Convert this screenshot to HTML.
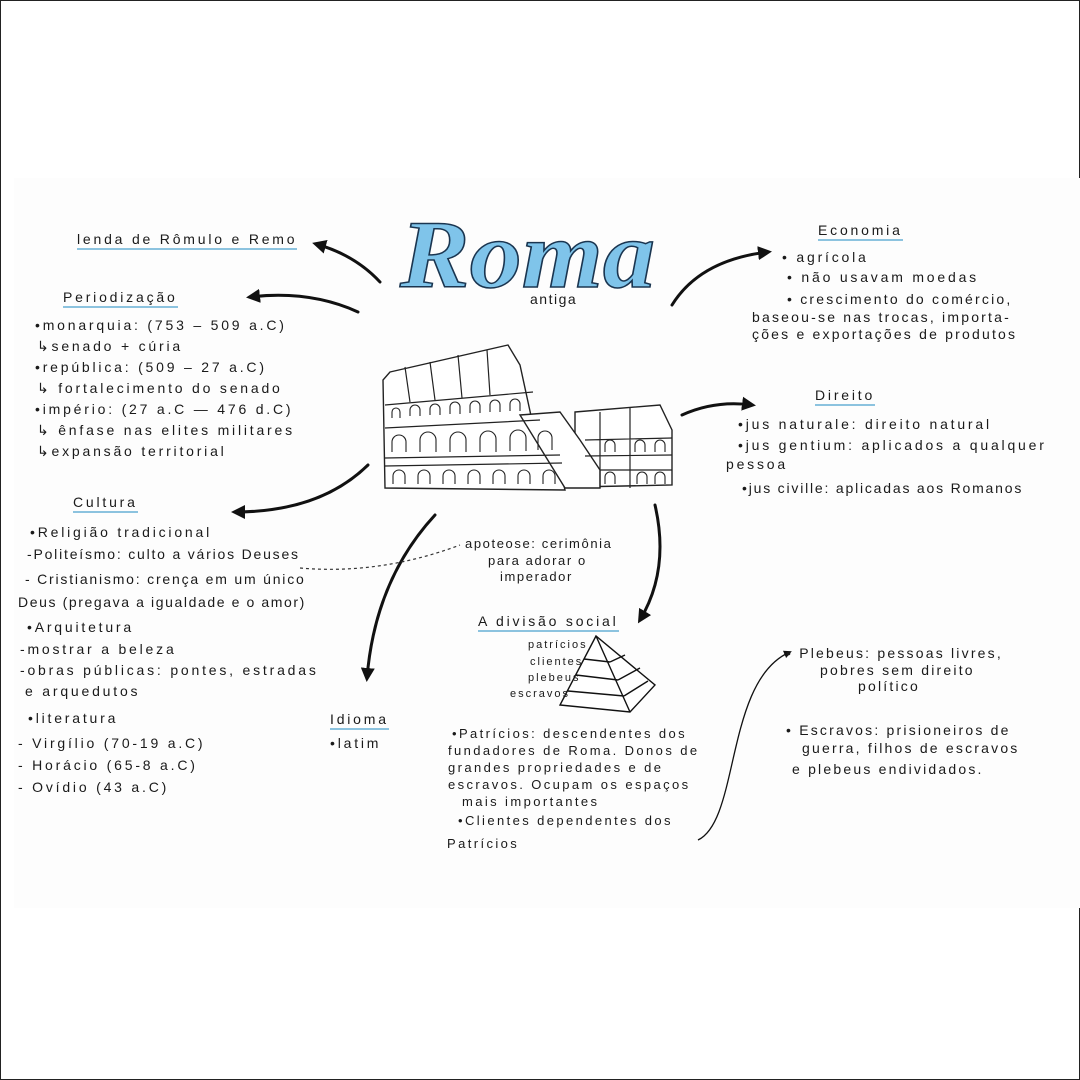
<!DOCTYPE html>
<html><head><meta charset="utf-8"><style>
html,body{margin:0;padding:0}
body{width:1080px;height:1080px;position:relative;background:#fff;overflow:hidden;font-family:"Liberation Sans",sans-serif;color:#1a1a1a}
.frame{position:absolute;left:0;top:0;width:1078px;height:1078px;border:1px solid #222}
.paper{position:absolute;left:14px;top:178px;width:1066px;height:730px;background:#fdfdfd}
.t{position:absolute;font-size:14px;white-space:nowrap;letter-spacing:2.8px;line-height:16px}
.m{font-size:13px;letter-spacing:2.4px}
.h{border-bottom:2px solid #8cc3df;padding-bottom:1px}
.s{font-size:11px;line-height:12px;letter-spacing:2px}
</style></head><body>
<div class="frame"></div>
<div class="paper"></div>
<svg width="1080" height="1080" style="position:absolute;left:0;top:0">
<defs><marker id="a" markerWidth="8" markerHeight="8" refX="6" refY="4" orient="auto" markerUnits="userSpaceOnUse"><path d="M0,0 L8,4 L0,8 Z" fill="#111"/></marker>
<marker id="b" markerWidth="14" markerHeight="14" refX="10" refY="7" orient="auto" markerUnits="userSpaceOnUse"><path d="M0,0 L14,7 L0,14 Z" fill="#111"/></marker></defs>
<g fill="none" stroke="#111" stroke-width="3" stroke-linecap="round">
<path d="M380,282 Q355,255 316,244" marker-end="url(#b)"/>
<path d="M358,312 Q310,290 250,297" marker-end="url(#b)"/>
<path d="M368,465 Q320,512 235,512" marker-end="url(#b)"/>
<path d="M435,515 Q375,580 367,678" marker-end="url(#b)"/>
<path d="M655,505 Q670,570 640,620" marker-end="url(#b)"/>
<path d="M672,305 Q700,260 768,252" marker-end="url(#b)"/>
<path d="M682,415 Q715,400 752,405" marker-end="url(#b)"/>
</g>
<path d="M698,840 C740,820 725,680 790,652" fill="none" stroke="#111" stroke-width="1.3" marker-end="url(#a)"/>
<path d="M300,568 Q380,575 460,545" fill="none" stroke="#333" stroke-width="1.2" stroke-dasharray="3,3"/>
<text x="400" y="287" font-family="Liberation Serif,serif" font-style="italic" font-weight="bold" font-size="96" textLength="255" lengthAdjust="spacingAndGlyphs" fill="#7fc4ea" stroke="#1a3550" stroke-width="1.5">Roma</text>
<g fill="#fff" stroke="#222" stroke-width="1.4">
<path d="M575,412 L660,405 L672,430 L672,485 L575,487 Z"/>
<path d="M390,372 L508,345 L520,365 L533,425 L560,470 L565,490 L385,488 L383,380 Z"/>
<path d="M520,415 L560,412 L580,440 L600,470 L600,488 L565,488 Z"/>
</g>
<g fill="none" stroke="#222" stroke-width="1.2">
<path d="M385,405 L533,392 M385,428 L540,420 M385,458 L560,455 M385,466 L562,463 M405,367 L410,402 M430,362 L435,400 M458,355 L462,398 M487,350 L490,395"/>
<path d="M585,440 L672,438 M585,456 L672,455 M600,470 L672,470 M600,412 L600,488 M630,407 L630,488"/>
<g stroke-width="1.1">
<path d="M392,418 v-6 a4,4 0 0 1 8,0 v6 M410,416 v-6 a5,5 0 0 1 10,0 v6 M430,415 v-6 a5,5 0 0 1 10,0 v6 M450,414 v-7 a5,5 0 0 1 10,0 v7 M470,413 v-7 a5,5 0 0 1 10,0 v7 M490,412 v-7 a5,5 0 0 1 10,0 v7 M510,411 v-7 a5,5 0 0 1 10,0 v7"/>
<path d="M392,452 v-10 a7,7 0 0 1 14,0 v10 M420,452 v-12 a8,8 0 0 1 16,0 v12 M450,452 v-12 a8,8 0 0 1 16,0 v12 M480,452 v-13 a8,8 0 0 1 16,0 v13 M510,451 v-13 a8,8 0 0 1 16,0 v13 M538,450 v-12 a7,7 0 0 1 14,0 v12"/>
<path d="M393,484 v-8 a6,6 0 0 1 12,0 v8 M418,484 v-8 a6,6 0 0 1 12,0 v8 M443,484 v-8 a6,6 0 0 1 12,0 v8 M468,484 v-8 a6,6 0 0 1 12,0 v8 M493,484 v-8 a6,6 0 0 1 12,0 v8 M518,484 v-8 a6,6 0 0 1 12,0 v8 M543,484 v-8 a6,6 0 0 1 12,0 v8"/>
<path d="M605,452 v-7 a5,5 0 0 1 10,0 v7 M635,452 v-7 a5,5 0 0 1 10,0 v7 M655,452 v-7 a5,5 0 0 1 10,0 v7 M605,484 v-7 a5,5 0 0 1 10,0 v7 M637,484 v-7 a5,5 0 0 1 10,0 v7 M655,484 v-7 a5,5 0 0 1 10,0 v7"/>
</g></g>
<g fill="#fff" stroke="#111" stroke-width="1.4">
<path d="M596,636 L560,705 L630,712 L655,685 Z"/>
<path d="M596,636 L630,712" fill="none"/>
<path d="M584,659 L610,662 M576,675 L618,680 M568,691 L624,696 M610,662 L625,655 M618,680 L640,668 M624,696 L648,681" fill="none"/>
</g>
</svg>
<div class="t" style="left:530px;top:291px;letter-spacing:1.5px">antiga</div>

<div class="t h" style="left:77px;top:231px">lenda de Rômulo e Remo</div>
<div class="t h" style="left:63px;top:289px">Periodização</div>
<div class="t" style="left:35px;top:317px">•monarquia: (753 – 509 a.C)</div>
<div class="t" style="left:37px;top:338px">↳senado + cúria</div>
<div class="t" style="left:35px;top:359px">•república: (509 – 27 a.C)</div>
<div class="t" style="left:37px;top:380px">↳ fortalecimento do senado</div>
<div class="t" style="left:35px;top:401px">•império: (27 a.C — 476 d.C)</div>
<div class="t" style="left:37px;top:422px">↳ ênfase nas elites militares</div>
<div class="t" style="left:37px;top:443px">↳expansão territorial</div>
<div class="t h" style="left:73px;top:494px">Cultura</div>
<div class="t" style="left:30px;top:524px">•Religião tradicional</div>
<div class="t" style="left:27px;top:546px;letter-spacing:1.8px">-Politeísmo: culto a vários Deuses</div>
<div class="t" style="left:25px;top:571px;letter-spacing:1.8px">- Cristianismo: crença em um único</div>
<div class="t" style="left:18px;top:594px;letter-spacing:1.6px">Deus (pregava a igualdade e o amor)</div>
<div class="t" style="left:27px;top:619px">•Arquitetura</div>
<div class="t" style="left:20px;top:641px">-mostrar a beleza</div>
<div class="t" style="left:20px;top:662px">-obras públicas: pontes, estradas</div>
<div class="t" style="left:25px;top:683px">e arquedutos</div>
<div class="t" style="left:28px;top:710px">•literatura</div>
<div class="t" style="left:18px;top:735px">- Virgílio (70-19 a.C)</div>
<div class="t" style="left:18px;top:757px">- Horácio (65-8 a.C)</div>
<div class="t" style="left:18px;top:779px">- Ovídio (43 a.C)</div>
<div class="t h" style="left:330px;top:711px">Idioma</div>
<div class="t" style="left:330px;top:735px">•latim</div>

<div class="t m" style="left:465px;top:536px;letter-spacing:1.6px">apoteose: cerimônia</div>
<div class="t m" style="left:488px;top:553px;letter-spacing:1.6px">para adorar o</div>
<div class="t m" style="left:500px;top:569px;letter-spacing:1.6px">imperador</div>
<div class="t h" style="left:478px;top:613px">A divisão social</div>
<div class="t s" style="left:528px;top:639px">patrícios</div>
<div class="t s" style="left:530px;top:656px">clientes</div>
<div class="t s" style="left:528px;top:672px">plebeus</div>
<div class="t s" style="left:510px;top:688px">escravos</div>
<div class="t m" style="left:452px;top:726px">•Patrícios: descendentes dos</div>
<div class="t m" style="left:448px;top:743px">fundadores de Roma. Donos de</div>
<div class="t m" style="left:448px;top:760px">grandes propriedades e de</div>
<div class="t m" style="left:448px;top:777px">escravos. Ocupam os espaços</div>
<div class="t m" style="left:462px;top:794px">mais importantes</div>
<div class="t m" style="left:458px;top:813px">•Clientes dependentes dos</div>
<div class="t m" style="left:447px;top:836px">Patrícios</div>

<div class="t h" style="left:818px;top:222px">Economia</div>
<div class="t" style="left:782px;top:249px">• agrícola</div>
<div class="t" style="left:787px;top:269px">• não usavam moedas</div>
<div class="t" style="left:787px;top:291px;letter-spacing:2.2px">• crescimento do comércio,</div>
<div class="t" style="left:752px;top:309px;letter-spacing:2.2px">baseou-se nas trocas, importa-</div>
<div class="t" style="left:752px;top:326px;letter-spacing:2.2px">ções e exportações de produtos</div>
<div class="t h" style="left:815px;top:387px">Direito</div>
<div class="t" style="left:738px;top:416px">•jus naturale: direito natural</div>
<div class="t" style="left:738px;top:437px">•jus gentium: aplicados a qualquer</div>
<div class="t" style="left:726px;top:456px">pessoa</div>
<div class="t" style="left:742px;top:480px;letter-spacing:1.8px">•jus civille: aplicadas aos Romanos</div>
<div class="t" style="left:786px;top:645px;letter-spacing:2.2px">• Plebeus: pessoas livres,</div>
<div class="t" style="left:820px;top:662px;letter-spacing:2.2px">pobres sem direito</div>
<div class="t" style="left:858px;top:678px;letter-spacing:2.2px">político</div>
<div class="t" style="left:786px;top:722px;letter-spacing:2.2px">• Escravos: prisioneiros de</div>
<div class="t" style="left:802px;top:740px;letter-spacing:2.2px">guerra, filhos de escravos</div>
<div class="t" style="left:792px;top:761px;letter-spacing:2.2px">e plebeus endividados.</div>
</body></html>
